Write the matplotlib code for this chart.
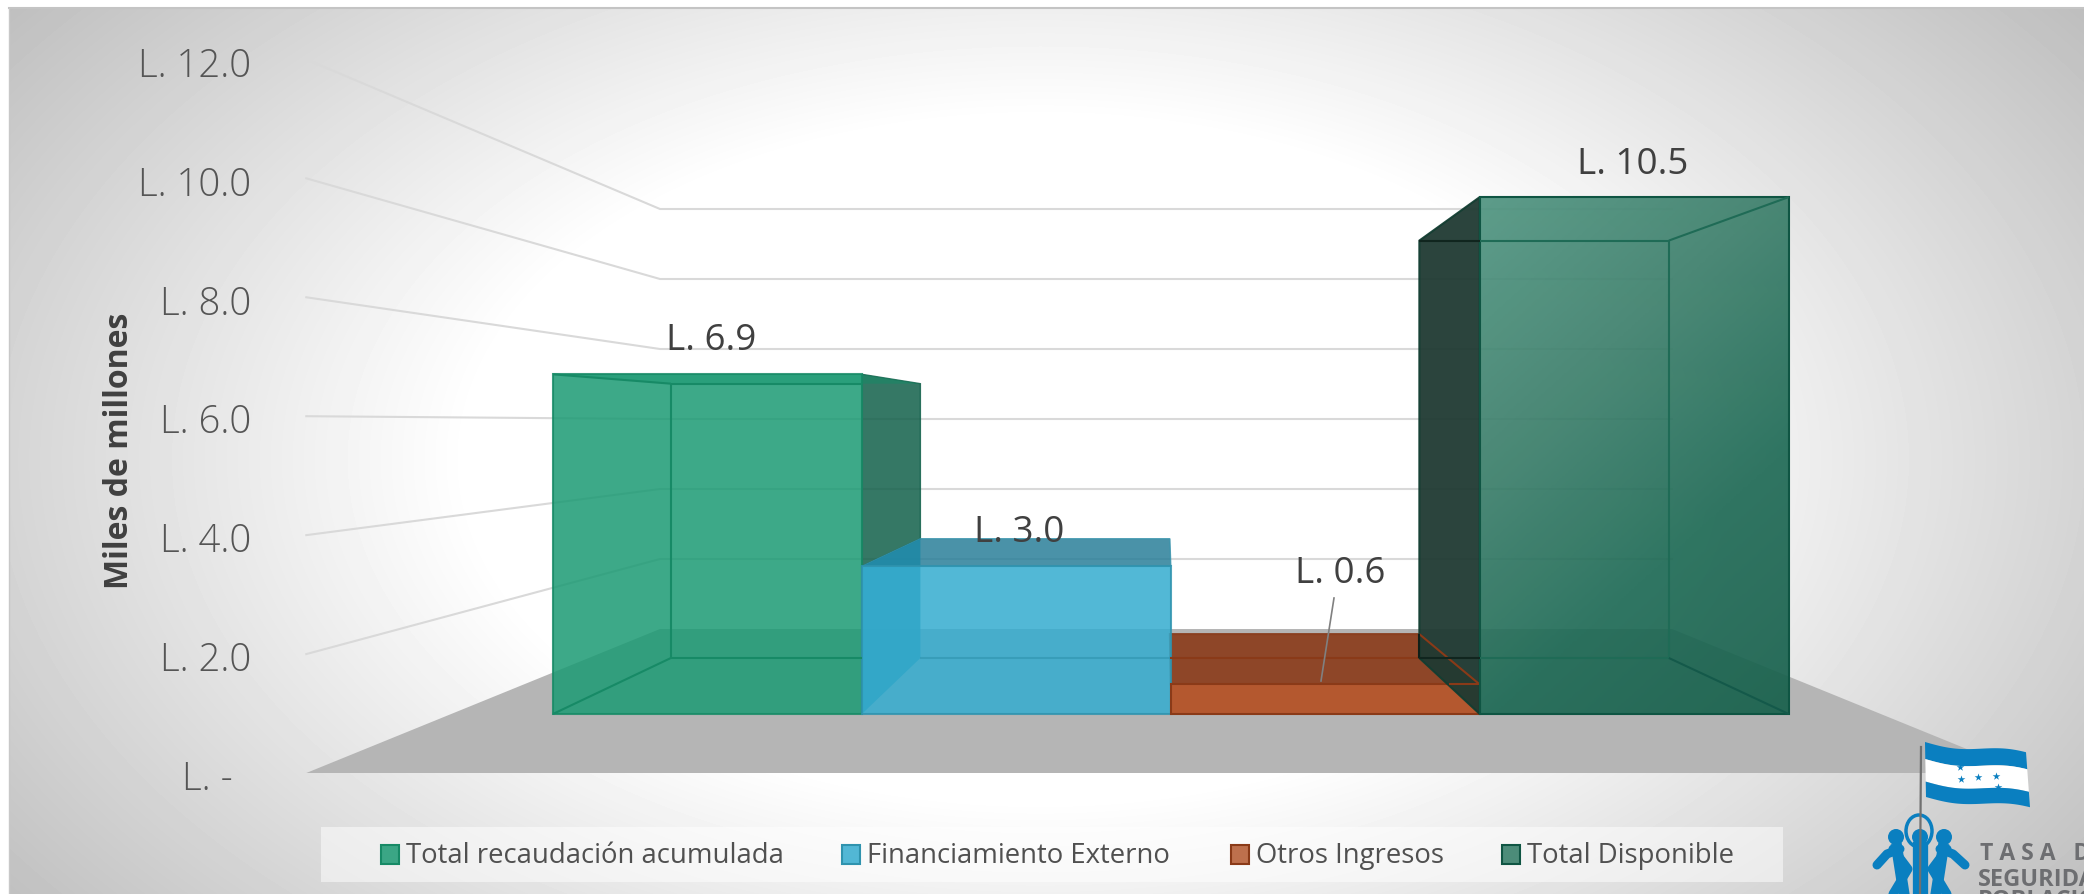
import numpy as np
import matplotlib
matplotlib.use("Agg")
import matplotlib.pyplot as plt
from matplotlib.patches import Polygon, Rectangle, Ellipse
from matplotlib.colors import LinearSegmentedColormap

plt.rcParams['font.family'] = ['Open Sans', 'DejaVu Sans']

# data
categories = ['Total recaudación acumulada', 'Financiamiento Externo', 'Otros Ingresos', 'Total Disponible']
values = [6.9, 3.0, 0.6, 10.5]
value_labels = ['L. 6.9', 'L. 3.0', 'L. 0.6', 'L. 10.5']
tick_values = [0, 2, 4, 6, 8, 10, 12]
tick_labels = ['L. -', 'L. 2.0', 'L. 4.0', 'L. 6.0', 'L. 8.0', 'L. 10.0', 'L. 12.0']
face_colors = ['#1B9A73', '#34ACCF', '#B4582F', '#2F7A64']
edge_colors = ['#178A66', '#2F93AE', '#8A3A18', '#0F5543']
legend_x = [381, 842, 1231, 1502]

W, H = 2084, 895
VP_X, VP_Y = 1166, 424      # vanishing point of the 3d box
WALL_FLOOR = 630            # floor line of back wall
NEAR_FLOOR = 774            # front of the floor
BAR_BACK = 659
BAR_FRONT = 715
UNIT = 35.0                 # px per 1 value on back wall
BAR_UNIT = 34.85            # same, for the bars
BAR_LEFT, BAR_STEP = 732, 218.7


def proj(x, v, floor_y, unit=UNIT):
    # x in back wall px, v in chart value, floor_y picks the depth
    k = (floor_y - VP_Y) / (WALL_FLOOR - VP_Y)
    return VP_X + (x - VP_X) * k, floor_y - v * unit * k


fig = plt.figure(figsize=(W / 100, H / 100), dpi=100, facecolor='white')
ax = fig.add_axes([0, 0, 1, 1])

# background radial gradient
xx, yy = np.meshgrid(np.arange(9, W), np.arange(9, H))
r = np.sqrt(((xx - 1040) / 1040) ** 2 + ((yy - 460) / 620) ** 2)
shade = 1 - np.minimum(np.clip(r - 0.55, 0, None) * 0.37, 0.26)
ax.imshow(shade, extent=(9, W, H, 9), cmap='gray', vmin=0, vmax=1, aspect='auto', zorder=0)
ax.plot([9, W], [9, 9], color='#c4c4c4', lw=1.5, zorder=1)
ax.plot([9, 9], [9, H], color='#c8c8c8', lw=1, zorder=1)

# floor
wall_l, wall_r = 660, 1672
ax.add_patch(Polygon([proj(wall_l, 0, NEAR_FLOOR), proj(wall_l, 0, WALL_FLOOR),
                      proj(wall_r, 0, WALL_FLOOR), proj(wall_r, 0, NEAR_FLOOR)],
                     closed=True, fc='#b5b5b5', ec='none', zorder=1))

# gridlines, wall then side
for v, lab in zip(tick_values, tick_labels):
    p0 = proj(wall_l, v, NEAR_FLOOR)
    p1 = proj(wall_l, v, WALL_FLOOR)
    p2 = proj(wall_r, v, WALL_FLOOR)
    if v > 0:
        ax.plot([p0[0], p1[0], p2[0]], [p0[1], p1[1], p2[1]], color='#d9d9d9', lw=1.5, zorder=2)
    xt = 233 if v == 0 else 251
    yt = p0[1] + 6
    ax.text(xt, yt, lab, ha='right', va='center', fontsize=27.5, color='#555555', fontweight='light', zorder=6)

ax.text(120, 451, 'Miles de millones', rotation=90, ha='center', va='center',
        fontsize=23, fontweight='bold', color='#404040', zorder=6)


def box_pts(i, v):
    x0, x1 = BAR_LEFT + i * BAR_STEP, BAR_LEFT + (i + 1) * BAR_STEP
    return dict(
        fb=proj(x0, 0, BAR_FRONT), fr=proj(x1, 0, BAR_FRONT),
        ft=proj(x0, v, BAR_FRONT, BAR_UNIT), fu=proj(x1, v, BAR_FRONT, BAR_UNIT),
        bb=proj(x0, 0, BAR_BACK), br=proj(x1, 0, BAR_BACK),
        bt=proj(x0, v, BAR_BACK, BAR_UNIT), bu=proj(x1, v, BAR_BACK, BAR_UNIT))


def seg(a, b, color, lw=1.5, z=5, alpha=1):
    ax.plot([a[0], b[0]], [a[1], b[1]], color=color, lw=lw, zorder=z, alpha=alpha, solid_capstyle='butt')


# green bar
p = box_pts(0, values[0])
x1 = BAR_LEFT + BAR_STEP
ax.add_patch(Polygon([p['fu'], p['bu'], proj(x1, values[1], BAR_BACK, BAR_UNIT),
                      proj(x1, values[1], BAR_FRONT, BAR_UNIT)],
                     closed=True, fc='#12604A', alpha=0.85, ec='#12604A', lw=1, zorder=3))
ax.add_patch(Polygon([p['ft'], p['fu'], p['bu'], p['bt']], closed=True, fc='#178A66', alpha=0.55, ec='none', zorder=3))
ax.add_patch(Polygon([p['fb'], p['ft'], p['fu'], p['fr']], closed=True, fc=face_colors[0], alpha=0.85,
                     ec=edge_colors[0], lw=1.5, zorder=4))
seg(p['bt'], (p['fu'][0], p['bt'][1]), edge_colors[0])
seg(p['bb'], (p['fr'][0], p['bb'][1]), edge_colors[0])
seg(p['bt'], p['bb'], edge_colors[0])
seg(p['fb'], p['bb'], edge_colors[0])
seg(p['ft'], p['bt'], edge_colors[0])

# blue bar
p = box_pts(1, values[1])
ax.add_patch(Polygon([p['ft'], p['fu'], p['bu'], p['bt']], closed=True, fc='#2A7F99', alpha=0.85, ec='#3A94AD', lw=1, zorder=3))
ax.add_patch(Polygon([p['fb'], p['ft'], p['bt'], p['bb']], closed=True, fc='#1F88A5', alpha=0.9, ec='none', zorder=4))
ax.add_patch(Polygon([p['fb'], p['ft'], p['fu'], p['fr']], closed=True, fc=face_colors[1], alpha=0.85,
                     ec=edge_colors[1], lw=1.5, zorder=4))
seg(p['bb'], p['br'], edge_colors[1], z=5, alpha=0.6)

# orange bar
p = box_pts(2, values[2])
ax.add_patch(Polygon([p['ft'], p['fu'], p['bu'], p['bt']], closed=True, fc='#8E4628', ec='#8A3F20', lw=1.5, zorder=3))
ax.add_patch(Polygon([p['fb'], p['ft'], p['fu'], p['fr']], closed=True, fc=face_colors[2],
                     ec=edge_colors[2], lw=1.5, zorder=4))
seg(p['bb'], p['br'], edge_colors[2], z=4)
orange = p

# dark bar, left side goes over the orange one
p = box_pts(3, values[3])
ax.add_patch(Polygon([p['fb'], p['ft'], p['bt'], p['bb']], closed=True, fc='#1F3A32', alpha=0.95,
                     ec='#123D31', lw=1.5, zorder=5))
seg(orange['fu'], orange['bu'], edge_colors[2], z=6)
seg(orange['fu'], (orange['fu'][0] - 31, orange['fu'][1]), edge_colors[2], z=6)
seg(orange['bu'], orange['br'], '#0F1F18', z=6)

cm = LinearSegmentedColormap.from_list('dk', ['#4F9480', '#3C7F6B', '#1E6A55', '#17604C'])
gx, gy = np.meshgrid(np.linspace(0, 1, 200), np.linspace(0, 1, 300))
front = Polygon([p['fb'], p['ft'], p['fu'], p['fr']], closed=True, transform=ax.transData)
im = ax.imshow(0.35 * gx + 0.65 * gy, extent=(p['ft'][0], p['fu'][0], p['fb'][1], p['ft'][1]),
               cmap=cm, aspect='auto', alpha=0.92, zorder=6)
im.set_clip_path(front)
ax.add_patch(Polygon([p['fb'], p['ft'], p['fu'], p['fr']], closed=True, fc='none', ec=edge_colors[3], lw=1.5, zorder=7))
# back lines: dark over the side face, green over the front
seg(p['bt'], (p['ft'][0], p['bt'][1]), '#10251E', z=7)
seg(p['bb'], (p['fb'][0], p['bb'][1]), '#10251E', z=7)
seg((p['ft'][0], p['bt'][1]), p['bu'], '#1F6B56', z=7)
seg((p['fb'][0], p['bb'][1]), p['br'], '#1F6B56', z=7)
seg(p['bu'], p['br'], '#1F6B56', z=7)
seg(p['fu'], p['bu'], '#1F6B56', z=7)
seg(p['fr'], p['br'], '#14594A', z=7)

# value labels
label_xy = [(711, 341), (1019, 533), (1340, 574), (1633, 165)]
for t, (lx, ly) in zip(value_labels, label_xy):
    ax.text(lx, ly, t, ha='center', va='center', fontsize=26.5, color='#404040', zorder=9)
ax.plot([1334, 1321], [599, 682], color='#808080', lw=1.2, zorder=8)

# legend
ax.add_patch(Rectangle((321, 828), 1462, 55, fc='white', ec='none', alpha=0.5, zorder=3))
for cat, lx, fc, ec in zip(categories, legend_x, face_colors, edge_colors):
    ax.add_patch(Rectangle((lx, 846), 18, 19, fc=fc, alpha=0.85, ec='none', zorder=4))
    ax.add_patch(Rectangle((lx, 846), 18, 19, fc='none', ec=ec, lw=1.5, zorder=4))
    ax.text(lx + 25, 856, cat, ha='left', va='center', fontsize=19.8, color='#505050', zorder=5)

# logo, flag is a wavy quad
blue = '#0A7FC0'
s = np.linspace(0, 1, 40)
wave = 3 * np.sin(s * 2 * np.pi * 0.9)


def flag_edge(t):
    # t 0 top edge, t 1 bottom edge
    x = 1925 + 1 * t + s * (101 + 3 * t)
    y = 743 + 55 * t + s * 12 + wave
    return np.column_stack([x, y])


def band(t0, t1, color, z=8):
    a, b = flag_edge(t0), flag_edge(t1)
    ax.add_patch(Polygon(np.vstack([a, b[::-1]]), closed=True, fc=color, ec='none', zorder=z))


band(0, 0.31, blue)
band(0.31, 0.72, 'white')
band(0.72, 1, blue)
star_x = [1960, 1978, 1996, 1961, 1998]
star_y = [768, 778, 777, 780, 788]
ax.scatter(star_x, star_y, marker='*', s=34, color=blue, zorder=9, linewidths=0)

# people
for hx in [1896, 1920, 1944]:
    ax.add_patch(Ellipse((hx, 838), 16, 16, fc=blue, ec='none', zorder=8))
ax.add_patch(Ellipse((1919, 832), 26, 32, fc='none', ec=blue, lw=2.5, zorder=8))
arms = [[(1900, 850), (1887, 855), (1877, 866)],
        [(1940, 850), (1953, 855), (1965, 866)],
        [(1893, 850), (1908, 870), (1893, 895)],
        [(1947, 850), (1932, 870), (1947, 895)]]
for a in arms:
    a = np.array(a)
    ax.plot(a[:, 0], a[:, 1], color=blue, lw=6.5, zorder=8, solid_capstyle='round')
for a in [[(1897, 850), (1904, 895)], [(1943, 850), (1936, 895)]]:
    a = np.array(a)
    ax.plot(a[:, 0], a[:, 1], color=blue, lw=8, zorder=8)
ax.plot([1920, 1920], [850, 895], color=blue, lw=11, zorder=8)
ax.plot([1921, 1920], [748, 895], color='#707070', lw=1.6, zorder=9)

ax.text(1980, 854, 'T A S A   D E', fontsize=16.5, fontweight='bold', color='#6D6E71', va='center', ha='left', zorder=8)
ax.text(1978, 880, 'SEGURIDAD', fontsize=17, fontweight='bold', color='#6D6E71', va='center', ha='left', zorder=8)
ax.text(1978, 901, 'POBLACIONAL', fontsize=17, fontweight='bold', color='#6D6E71', va='center', ha='left', zorder=8)

ax.set_xlim(0, W)
ax.set_ylim(H, 0)
ax.axis('off')
fig.savefig('out.png', dpi=100, facecolor='white')
